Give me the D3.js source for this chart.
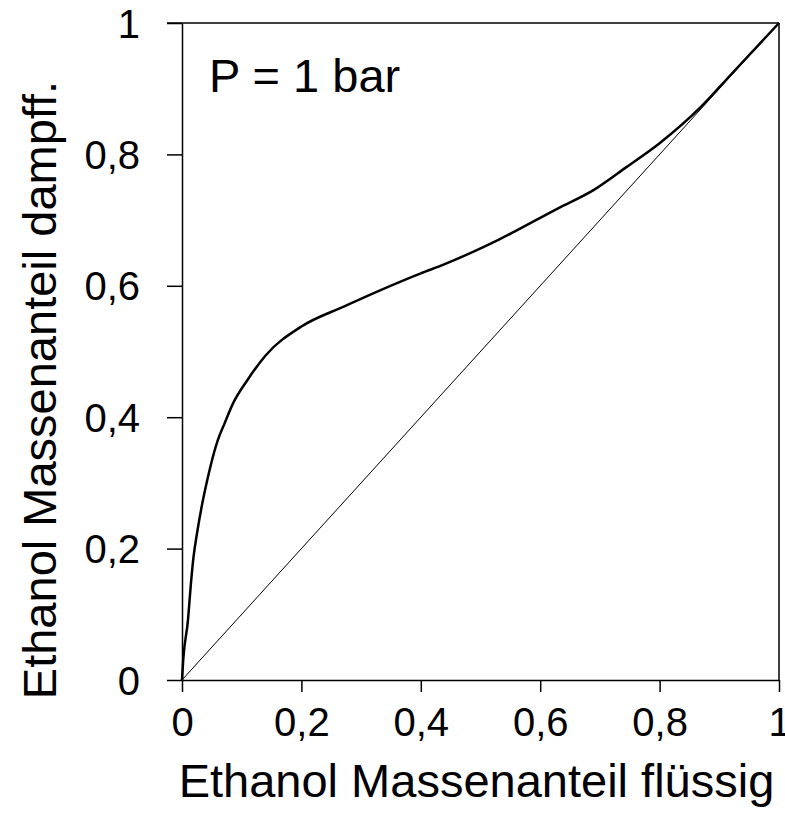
<html>
<head>
<meta charset="UTF-8">
<title>Ethanol x-y Diagramm</title>
<script src="https://cdn.jsdelivr.net/npm/d3@7"></script>
<style>
  body { margin: 0; background: #fff; }
  text { font-family: "Liberation Sans", Arial, Helvetica, sans-serif; fill: #000; }
</style>
</head>
<body>
<div id="chart"></div>
<script>
// Gleichgewichtskurve Ethanol/Wasser, Massenanteile, P = 1 bar
var liquid = [0, 0.002, 0.01, 0.0145, 0.019, 0.026, 0.033, 0.041, 0.049, 0.06, 0.0715, 0.0855, 0.11, 0.14, 0.2, 0.27, 0.4, 0.44, 0.53, 0.63, 0.69, 0.745, 0.8, 0.87, 0.92, 1];
var vapor  = [0, 0.03, 0.091, 0.142, 0.185, 0.228, 0.264, 0.299, 0.33, 0.365, 0.391, 0.421, 0.457, 0.494, 0.538, 0.568, 0.619, 0.633, 0.670, 0.718, 0.746, 0.781, 0.817, 0.873, 0.922, 1];
var diagonal = [0, 1];
var ticks = [0, 0.2, 0.4, 0.6, 0.8, 1];
var xTitle = "Ethanol Massenanteil flüssig";
var yTitle = "Ethanol Massenanteil dampff.";
var note = "P = 1 bar";

var W = 785, H = 826;
var mLeft = 182, mRight = 779, mTop = 23, mBottom = 680;

var svg = d3.select("#chart").append("svg").attr("width", W).attr("height", H);

var x = d3.scaleLinear().domain([0, 1]).range([mLeft, mRight]);
var y = d3.scaleLinear().domain([0, 1]).range([mBottom, mTop]);

var de = d3.formatLocale({decimal: ",", thousands: ".", grouping: [3], currency: ["", "€"]});
var fmt = de.format("~g");

// Rahmen oben und rechts
svg.append("line").attr("x1", mLeft - 15).attr("x2", mRight).attr("y1", mTop).attr("y2", mTop)
  .style("stroke", "#000").style("stroke-width", 1.5);
svg.append("line").attr("x1", mRight).attr("x2", mRight).attr("y1", mTop).attr("y2", mBottom)
  .style("stroke", "#000").style("stroke-width", 1.5);

var gx = svg.append("g").attr("transform", "translate(0," + mBottom + ")")
  .call(d3.axisBottom(x).tickValues(ticks).tickFormat(fmt).tickSize(12).tickSizeOuter(0).tickPadding(16));
var gy = svg.append("g").attr("transform", "translate(" + mLeft + ",0)")
  .call(d3.axisLeft(y).tickValues(ticks).tickFormat(fmt).tickSize(15).tickSizeOuter(0).tickPadding(27));

[gx, gy].forEach(function(g){
  g.select(".domain").style("stroke", "#000").style("stroke-width", 1.5);
  g.selectAll(".tick line").style("stroke", "#000").style("stroke-width", 1.5);
  g.selectAll(".tick text").style("font-size", "40px").attr("font-family", null);
});
gy.selectAll(".tick text").attr("dy", "0.35em");

// Diagonale
svg.append("path").datum(diagonal)
  .attr("d", d3.line().x(function(d){ return x(d); }).y(function(d){ return y(d); }))
  .style("fill", "none").style("stroke", "#000").style("stroke-width", 1);

// Gleichgewichtskurve
svg.append("path").datum(d3.zip(liquid, vapor))
  .attr("d", d3.line().x(function(d){ return x(d[0]); }).y(function(d){ return y(d[1]); }).curve(d3.curveMonotoneX))
  .style("fill", "none").style("stroke", "#000").style("stroke-width", 2.5);

svg.append("text").attr("x", 209).attr("y", 92).style("font-size", "47px").text(note);

svg.append("text").attr("x", (mLeft + mRight) / 2 - 4).attr("y", 797)
  .attr("text-anchor", "middle").style("font-size", "47px").text(xTitle);

svg.append("text").attr("transform", "translate(56," + 390 + ") rotate(-90)")
  .attr("text-anchor", "middle").style("font-size", "47px").text(yTitle);
</script>
</body>
</html>
